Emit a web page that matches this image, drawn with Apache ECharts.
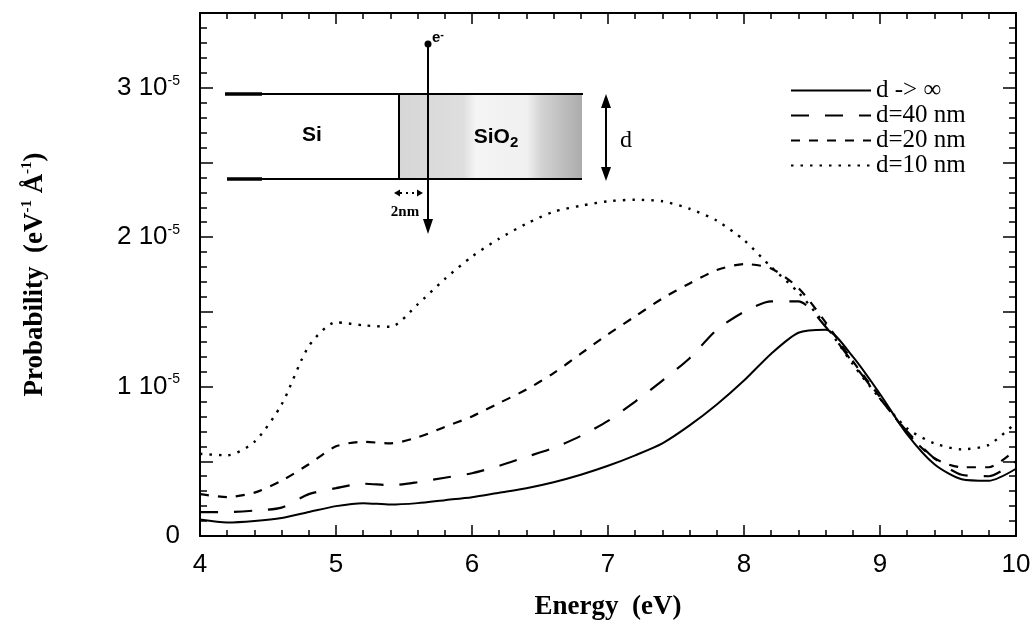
<!DOCTYPE html>
<html>
<head>
<meta charset="utf-8">
<script src="https://cdn.jsdelivr.net/npm/echarts@6/dist/echarts.min.js"></script>
<style>
  html, body { margin: 0; padding: 0; background: #fff; }
  #chart { width: 1035px; height: 626px; }
</style>
</head>
<body>
<div id="chart"></div>
<script>
// energy grid (eV)
const energy = [4.0, 4.2, 4.4, 4.6, 4.8, 5.0, 5.2, 5.4, 5.6, 5.8, 6.0, 6.2, 6.4, 6.6, 6.8, 7.0,
  7.2, 7.4, 7.6, 7.8, 8.0, 8.2, 8.4, 8.6, 8.8, 9.0, 9.2, 9.4, 9.6, 9.8, 10.0];

// probability, in units of 1e-5 eV^-1 Å^-1
const dInf = [0.11, 0.09, 0.10, 0.12, 0.16, 0.20, 0.22, 0.21, 0.22, 0.24, 0.26, 0.29, 0.32, 0.36, 0.41, 0.47,
  0.54, 0.62, 0.74, 0.88, 1.04, 1.22, 1.36, 1.38, 1.20, 0.95, 0.68, 0.48, 0.38, 0.37, 0.45];
const d40 = [0.16, 0.16, 0.17, 0.19, 0.28, 0.32, 0.35, 0.34, 0.36, 0.39, 0.42, 0.47, 0.53, 0.59, 0.67, 0.77,
  0.90, 1.04, 1.19, 1.38, 1.50, 1.57, 1.57, 1.40, 1.16, 0.92, 0.70, 0.52, 0.41, 0.40, 0.50];
const d20 = [0.28, 0.26, 0.29, 0.37, 0.48, 0.60, 0.63, 0.62, 0.66, 0.73, 0.80, 0.89, 0.98, 1.09, 1.22, 1.35,
  1.47, 1.59, 1.69, 1.78, 1.82, 1.79, 1.66, 1.43, 1.17, 0.93, 0.69, 0.52, 0.46, 0.46, 0.58];
const d10 = [0.55, 0.54, 0.63, 0.88, 1.27, 1.43, 1.41, 1.40, 1.55, 1.72, 1.87, 1.99, 2.09, 2.17, 2.21, 2.24,
  2.25, 2.24, 2.19, 2.11, 1.98, 1.80, 1.63, 1.41, 1.15, 0.92, 0.72, 0.62, 0.58, 0.61, 0.76];

const seriesNames = ['d -> \u221e', 'd=40 nm', 'd=20 nm', 'd=10 nm'];

const sans = 'Liberation Sans';
const serif = 'Liberation Serif';

const chart = echarts.init(document.getElementById('chart'));

function pairs(vals) {
  return energy.map((e, i) => [e, vals[i]]);
}

function xAxisCfg(pos, showLabel) {
  return {
    type: 'value',
    position: pos,
    min: 4,
    max: 10,
    interval: 1,
    axisLine: { show: true, onZero: false, lineStyle: { color: '#000', width: 2 } },
    axisTick: { show: true, inside: true, length: 11, lineStyle: { color: '#000', width: 1.5 } },
    minorTick: { show: true, splitNumber: 5, length: 6, lineStyle: { color: '#000', width: 1.5 } },
    splitLine: { show: false },
    axisLabel: {
      show: showLabel,
      margin: 16,
      color: '#000',
      fontFamily: sans,
      fontSize: 26,
    },
  };
}

function yAxisCfg(pos, showLabel) {
  return {
    type: 'value',
    position: pos,
    min: 0,
    max: 3.5,
    interval: 0.5,
    axisLine: { show: true, onZero: false, lineStyle: { color: '#000', width: 2 } },
    axisTick: { show: true, inside: true, length: 13, lineStyle: { color: '#000', width: 1.5 } },
    minorTick: { show: true, splitNumber: 5, length: 7, lineStyle: { color: '#000', width: 1.5 } },
    splitLine: { show: false },
    axisLabel: {
      show: showLabel,
      margin: 20,
      color: '#000',
      formatter: function (v) {
        if (v === 0) return '{n|0}';
        if (Number.isInteger(v) && v <= 3) return '{n|' + v + ' 10}{s|-5}';
        return '';
      },
      rich: {
        n: { fontFamily: sans, fontSize: 26, lineHeight: 28, color: '#000' },
        s: { fontFamily: sans, fontSize: 14, lineHeight: 28, verticalAlign: 'top', color: '#000' },
      },
    },
  };
}

const xBottom = xAxisCfg('bottom', true);
xBottom.name = 'Energy  (eV)';
xBottom.nameLocation = 'middle';
xBottom.nameGap = 58;
xBottom.nameTextStyle = { fontFamily: serif, fontWeight: 'bold', fontSize: 27, color: '#000' };

const yLeft = yAxisCfg('left', true);
yLeft.name = '{t|Probability  (eV}{s|-1}{t| \u00c5}{s|-1}{t|)}';
yLeft.nameLocation = 'middle';
yLeft.nameGap = 150;
yLeft.nameTextStyle = {
  rich: {
    t: { fontFamily: serif, fontWeight: 'bold', fontSize: 27, lineHeight: 30, color: '#000' },
    s: { fontFamily: serif, fontWeight: 'bold', fontSize: 15, lineHeight: 30, verticalAlign: 'top', color: '#000' },
  },
};

const styles = [
  { type: 'solid', width: 2 },
  { type: [18, 16], width: 2.2 },
  { type: [9, 9], width: 2.2 },
  { type: [2.5, 7], width: 2.4 },
];
const datasets = [dInf, d40, d20, d10];

const shade = new echarts.graphic.LinearGradient(0, 0, 1, 0, [
  { offset: 0, color: '#d6d6d6' },
  { offset: 0.35, color: '#dedede' },
  { offset: 0.42, color: '#f4f4f4' },
  { offset: 0.7, color: '#f0f0f0' },
  { offset: 0.78, color: '#d2d2d2' },
  { offset: 1, color: '#acacac' },
]);

const ink = { stroke: '#000', lineWidth: 2 };

const option = {
  backgroundColor: '#fff',
  animation: false,
  grid: { left: 200, right: 19, top: 13, bottom: 90 },
  xAxis: [xBottom, xAxisCfg('top', false)],
  yAxis: [yLeft, yAxisCfg('right', false)],
  legend: {
    orient: 'vertical',
    left: 785,
    top: 73,
    itemWidth: 80,
    itemHeight: 14,
    itemGap: 0,
    data: seriesNames,
    itemStyle: { opacity: 0 },
    lineStyle: { opacity: 1 },
    textStyle: { fontFamily: serif, fontSize: 25, lineHeight: 22, color: '#000' },
  },
  series: datasets.map((vals, i) => ({
    name: seriesNames[i],
    type: 'line',
    data: pairs(vals),
    symbol: 'none',
    smooth: 0.25,
    color: '#000',
    lineStyle: { color: '#000', width: styles[i].width, type: styles[i].type, cap: 'butt' },
    z: 3,
  })),
  graphic: [
    // inset: Si / SiO2 slab
    { type: 'rect', shape: { x: 399, y: 94, width: 183, height: 85 }, style: { fill: shade } },
    { type: 'line', shape: { x1: 225, y1: 94, x2: 583, y2: 94 }, style: ink },
    { type: 'line', shape: { x1: 227, y1: 179, x2: 582, y2: 179 }, style: ink },
    { type: 'line', shape: { x1: 225, y1: 94, x2: 262, y2: 94 }, style: { stroke: '#000', lineWidth: 3.5 } },
    { type: 'line', shape: { x1: 227, y1: 179, x2: 262, y2: 179 }, style: { stroke: '#000', lineWidth: 3.5 } },
    { type: 'line', shape: { x1: 399, y1: 94, x2: 399, y2: 179 }, style: ink },
    // electron trajectory
    { type: 'line', shape: { x1: 428, y1: 44, x2: 428, y2: 222 }, style: ink },
    { type: 'polygon', shape: { points: [[423, 219], [433, 219], [428, 234]] }, style: { fill: '#000' } },
    { type: 'circle', shape: { cx: 428, cy: 44, r: 3.5 }, style: { fill: '#000' } },
    {
      type: 'text',
      style: {
        x: 432, y: 38, text: '{e|e}{m|-}', verticalAlign: 'middle',
        rich: {
          e: { fontFamily: sans, fontWeight: 'bold', fontSize: 15, lineHeight: 18, fill: '#000' },
          m: { fontFamily: sans, fontWeight: 'bold', fontSize: 11, lineHeight: 18, verticalAlign: 'top', fill: '#000' },
        },
      },
    },
    {
      type: 'text',
      style: { x: 312, y: 135, text: 'Si', align: 'center', verticalAlign: 'middle', font: 'bold 21px Liberation Sans', fill: '#000' },
    },
    {
      type: 'text',
      style: {
        x: 496, y: 137, text: '{a|SiO}{b|2}', align: 'center', verticalAlign: 'middle',
        rich: {
          a: { fontFamily: sans, fontWeight: 'bold', fontSize: 21, lineHeight: 26, fill: '#000' },
          b: { fontFamily: sans, fontWeight: 'bold', fontSize: 15, lineHeight: 26, verticalAlign: 'bottom', fill: '#000' },
        },
      },
    },
    // 2 nm marker
    { type: 'line', shape: { x1: 400, y1: 193, x2: 418, y2: 193 }, style: { stroke: '#000', lineWidth: 2, lineDash: [2, 4] } },
    { type: 'polygon', shape: { points: [[394, 193], [400, 189.5], [400, 196.5]] }, style: { fill: '#000' } },
    { type: 'polygon', shape: { points: [[423, 193], [417, 189.5], [417, 196.5]] }, style: { fill: '#000' } },
    {
      type: 'text',
      style: { x: 405, y: 212, text: '2nm', align: 'center', verticalAlign: 'middle', font: 'bold 15px Liberation Serif', fill: '#000' },
    },
    // thickness d
    { type: 'line', shape: { x1: 606, y1: 104, x2: 606, y2: 171 }, style: ink },
    { type: 'polygon', shape: { points: [[606, 94], [601, 108], [611, 108]] }, style: { fill: '#000' } },
    { type: 'polygon', shape: { points: [[606, 181], [601, 167], [611, 167]] }, style: { fill: '#000' } },
    {
      type: 'text',
      style: { x: 626, y: 141, text: 'd', align: 'center', verticalAlign: 'middle', font: '24px Liberation Serif', fill: '#000' },
    },
  ],
};

chart.setOption(option);
</script>
</body>
</html>
